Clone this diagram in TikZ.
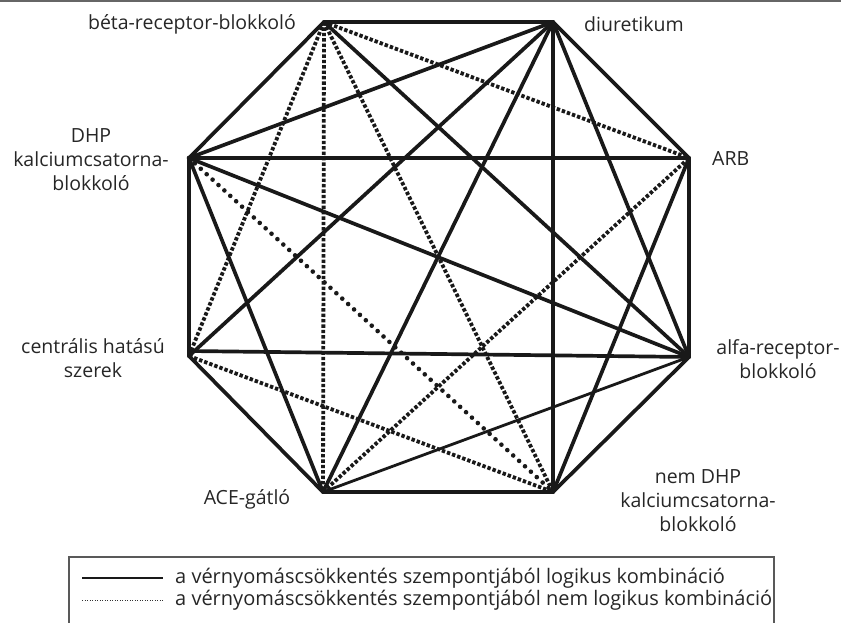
\documentclass[tikz,border=0pt]{standalone}
\usepackage{fontspec}
\setmainfont{Open Sans}
\begin{document}
\begin{tikzpicture}[x=1pt,y=-1pt,
  lbl/.style={font=\fontsize{19.5}{24}\selectfont, text=black!85, inner sep=0pt, align=center},
  leg/.style={font=\fontsize{20}{24}\selectfont, text=black!85, inner sep=0pt},
  good/.style={line width=3.7pt, black!90, line cap=round},
  thin good/.style={line width=2.8pt, black!90, line cap=round},
  bad/.style={line width=3.8pt, black!90, dash pattern=on 3.4pt off 2pt},
  baddots/.style={line width=4.6pt, black!90, line cap=round, dash pattern=on 0pt off 8pt},
  frame/.style={line width=1.2pt, black!65}]
\useasboundingbox (0,0) rectangle (841,623);
% top rule
\coordinate (tl) at (0,1);
\coordinate (tr) at (841,1);
\draw[line width=2pt, black!60] (tl) -- (tr);
% vertices
\coordinate (B) at (324,22);
\coordinate (D) at (553,22);
\coordinate (R) at (689,158);
\coordinate (A) at (689,357);
\coordinate (N) at (553,492);
\coordinate (E) at (323,492);
\coordinate (C) at (189,356);
\coordinate (H) at (189,158);
% non-logical combinations
\draw[bad] (B) -- (R);
\draw[bad] (B) -- (C);
\draw[bad] (B) -- (E);
\draw[bad] (B) -- (N);
\draw[bad] (C) -- (N);
\draw[bad] (E) -- (R);
\draw[baddots] (H) -- (N);
% logical combinations
\draw[good] (B) -- (D);
\draw[good] (B) -- (H);
\draw[good] (B) -- (A);
\draw[good] (D) -- (H);
\draw[good] (D) -- (C);
\draw[good] (D) -- (E);
\draw[good] (D) -- (N);
\draw[good] (D) -- (A);
\draw[good] (D) -- (R);
\draw[good] (H) -- (R);
\draw[good] (H) -- (C);
\draw[good] (H) -- (E);
\draw[good] (H) -- (A);
\draw[good] ([yshift=5pt]C) -- (A);
\draw[good] (C) -- (E);
\draw[good] (E) -- (N);
\draw[thin good] (E) -- (A);
\draw[good] (R) -- (A);
\draw[good] (R) -- (N);
\draw[good] (A) -- (N);
% labels
\node[lbl, anchor=east] (lB) at (296,24) {béta-receptor-blokkoló};
\node[lbl, anchor=west] (lD) at (584,24) {diuretikum};
\node[lbl, anchor=west] (lR) at (712,159) {ARB};
\node[lbl] (lA) at (778,359) {alfa-receptor-\\blokkoló};
\node[lbl] (lH) at (91,160) {DHP\\kalciumcsatorna-\\blokkoló};
\node[lbl] (lC) at (93,358) {centrális hatású\\szerek};
\node[lbl] (lE) at (247,499) {ACE-gátló};
\node[lbl] (lN) at (698,501) {nem DHP\\kalciumcsatorna-\\blokkoló};
% legend
\coordinate (bl) at (69,630);
\coordinate (btl) at (69,557);
\coordinate (btr) at (774,557);
\coordinate (br) at (774,630);
\draw[frame] (bl) -- (btl) -- (btr) -- (br);
\coordinate (s1a) at (82,578);
\coordinate (s1b) at (163,578);
\coordinate (s2a) at (82,600);
\coordinate (s2b) at (163,600);
\draw[line width=1.4pt, black!90] (s1a) -- (s1b);
\draw[line width=0.9pt, black!80, dash pattern=on 0.9pt off 1.6pt] (s2a) -- (s2b);
\node[leg, anchor=west] (t1) at (175,578) {a vérnyomáscsökkentés szempontjából logikus kombináció};
\node[leg, anchor=west] (t2) at (175,600) {a vérnyomáscsökkentés szempontjából nem logikus kombináció};
\end{tikzpicture}
\end{document}
